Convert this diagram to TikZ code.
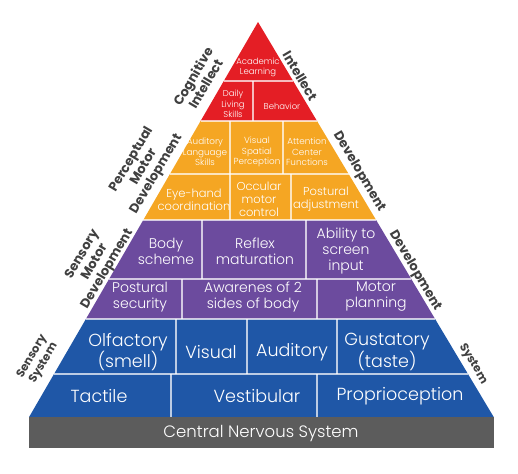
\documentclass[tikz,border=0pt]{standalone}
\usepackage{fontspec}
\setmainfont{Poppins}
\newfontfamily\lightfont{Poppins Light}
\definecolor{cred}{HTML}{E41E25}
\definecolor{corange}{HTML}{F5A623}
\definecolor{cpurple}{HTML}{6C4B9E}
\definecolor{cblue}{HTML}{1F57A7}
\definecolor{cgray}{HTML}{5C5C5C}
\definecolor{clabel}{HTML}{404040}
\tikzset{
  sep/.style={draw=white, draw opacity=0.7, line width=1.5pt},
  cell/.style={text=white, align=center, inner sep=0pt},
  tred/.style={cell, font=\lightfont\fontsize{8.5}{10.5}\selectfont},
  torA/.style={cell, font=\lightfont\fontsize{8.8}{10.5}\selectfont},
  torB/.style={cell, font=\lightfont\fontsize{11.5}{12.8}\selectfont},
  tpur/.style={cell, font=\lightfont\fontsize{14}{16}\selectfont},
  tblu/.style={cell, font=\lightfont\fontsize{17.5}{20}\selectfont},
  tgry/.style={cell, font=\lightfont\fontsize{16.5}{20}\selectfont},
  sideL/.style={text=clabel, align=center, inner sep=0pt, rotate=59.5, font=\bfseries\fontsize{13}{14.5}\selectfont},
  sideR/.style={text=clabel, align=center, inner sep=0pt, rotate=-59.5, font=\bfseries\fontsize{13}{14.5}\selectfont},
}
\begin{document}
\begin{tikzpicture}[x=1pt,y=-1pt]
\useasboundingbox (0,0) rectangle (518,473);
% layers
\fill[cred] (258,22) -- (317.0,121) -- (200.6,121) -- cycle;
\fill[corange] (200.6,121) -- (317.0,121) -- (376.1,220) -- (143.3,220) -- cycle;
\fill[cpurple] (143.3,220) -- (376.1,220) -- (435.1,319) -- (85.9,319) -- cycle;
\fill[cblue] (85.9,319) -- (435.1,319) -- (493.7,417) -- (29.1,417) -- cycle;
\fill[cgray] (29,417) rectangle (493.7,448);
% separators red
\draw[sep] (223.8,81) -- (293.2,81);
\draw[sep] (253,81) -- (253,121);
% orange
\draw[sep] (200.6,121) -- (317.0,121);
\draw[sep] (169.9,174) -- (348.7,174);
\draw[sep] (230,121) -- (230,174);
\draw[sep] (283,121) -- (283,174);
\draw[sep] (230,174) -- (230,220);
\draw[sep] (291,174) -- (291,220);
% purple
\draw[sep] (143.3,220) -- (376.1,220);
\draw[sep] (109.1,279) -- (411.3,279);
\draw[sep] (202,220) -- (202,279);
\draw[sep] (306,220) -- (306,279);
\draw[sep] (182,279) -- (182,319);
\draw[sep] (317,279) -- (317,319);
% blue
\draw[sep] (85.9,319) -- (435.1,319);
\draw[sep] (54.0,374) -- (468.0,374);
\draw[sep] (176,319) -- (176,374);
\draw[sep] (247,319) -- (247,374);
\draw[sep] (337,319) -- (337,374);
\draw[sep] (171,374) -- (171,417);
\draw[sep] (317,374) -- (317,417);
% cell texts
\node[tred] (acad) at (258,67.5) {Academic\\Learning};
\node[tred] (daily) at (233,104) {Daily\\Living\\Skills};
\node[tred] (behav) at (282,106) {Behavior};
\node[torA] (aud) at (205,152) {Auditory\\Language\\Skills};
\node[torA] (vis) at (257,152) {Visual\\Spatial\\Perception};
\node[torA] (att) at (307,152) {Attention\\Center\\Functions};
\node[torB] (eye) at (194,200) {Eye-hand\\coordination};
\node[torB] (occ) at (259,199) {Occular\\motor\\control};
\node[torB] (post) at (326,199) {Postural\\adjustment};
\node[tpur] (body) at (166,251) {Body\\scheme};
\node[tpur] (reflex) at (255,251) {Reflex\\maturation};
\node[tpur] (ability) at (346,251) {Ability to\\screen\\input};
\node[tpur] (postsec) at (140,297) {Postural\\security};
\node[tpur] (aware) at (253,297) {Awarenes of 2\\sides of body};
\node[tpur] (motor) at (376,297) {Motor\\planning};
\node[tblu] (olf) at (128,352) {Olfactory\\(smell)};
\node[tblu] (visual) at (211,352) {Visual};
\node[tblu] (audit) at (292,352) {Auditory};
\node[tblu] (gust) at (387,352) {Gustatory\\(taste)};
\node[tblu] (tact) at (99,396) {Tactile};
\node[tblu] (vest) at (257,396) {Vestibular};
\node[tblu] (prop) at (400,396) {Proprioception};
\node[tgry] (cns) at (261,434) {Central Nervous System};
% side labels
\node[sideL] (cogn) at (199,80) {Cognitive\\Intellect};
\node[sideR] (intel) at (300,76) {Intellect};
\node[sideL] (percept) at (144,167) {Perceptual\\Motor\\Development};
\node[sideR] (devA) at (359,172) {Development};
\node[sideL] (sensm) at (95,262) {Sensory\\Motor\\Development};
\node[sideR] (devB) at (415,271) {Development};
\node[sideL, font=\bfseries\fontsize{11.5}{13.5}\selectfont] (senss) at (38,360) {Sensory\\System};
\node[sideR, font=\bfseries\fontsize{11.5}{13.5}\selectfont] (sysR) at (473,364) {System};
\end{tikzpicture}
\end{document}
